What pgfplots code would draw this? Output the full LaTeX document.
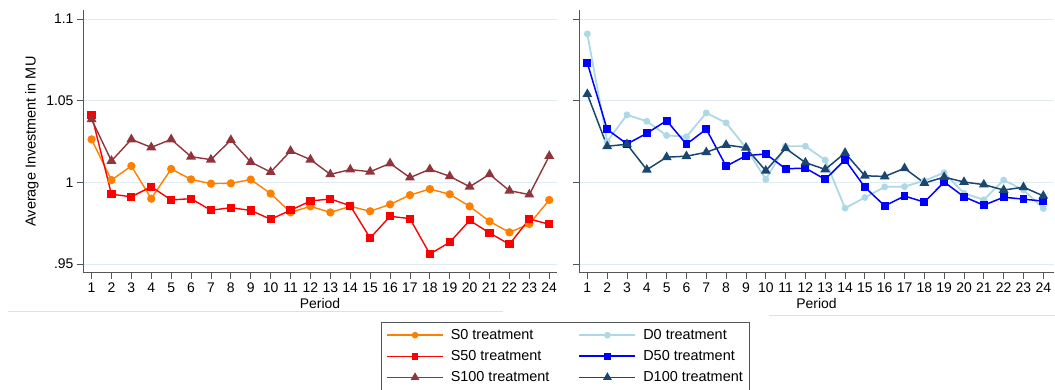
\documentclass[border=0pt]{standalone}
\usepackage{fontspec}
\setmainfont{Liberation Sans}
\usepackage{pgfplots}
\usepackage{pgfplotstable}
\pgfplotsset{compat=1.18}

\definecolor{cS0}{RGB}{255,128,0}
\definecolor{cS50}{RGB}{255,0,0}
\definecolor{cS100}{RGB}{144,53,59}
\definecolor{cD0}{RGB}{173,216,230}
\definecolor{cD50}{RGB}{0,0,255}
\definecolor{cD100}{RGB}{26,71,111}
\definecolor{gridc}{RGB}{225,235,242}
\definecolor{axc}{RGB}{85,85,85}
\definecolor{faint}{RGB}{225,225,225}

\pgfplotstableread{
p S0 S50 S100 D0 D50 D100
1 1.0263 1.0412 1.0386 1.0909 1.0731 1.0540
2 1.0014 0.9927 1.0131 1.0250 1.0324 1.0221
3 1.0100 0.9912 1.0263 1.0413 1.0235 1.0233
4 0.9900 0.9973 1.0214 1.0374 1.0300 1.0077
5 1.0082 0.9892 1.0263 1.0287 1.0378 1.0154
6 1.0018 0.9900 1.0157 1.0279 1.0233 1.0160
7 0.9992 0.9829 1.0139 1.0425 1.0326 1.0184
8 0.9994 0.9845 1.0259 1.0364 1.0099 1.0229
9 1.0017 0.9828 1.0124 1.0212 1.0163 1.0212
10 0.9931 0.9774 1.0063 1.0018 1.0174 1.0071
11 0.9816 0.9829 1.0192 1.0221 1.0083 1.0208
12 0.9853 0.9886 1.0139 1.0221 1.0087 1.0121
13 0.9816 0.9898 1.0049 1.0136 1.0018 1.0079
14 0.9853 0.9857 1.0078 0.9842 1.0138 1.0180
15 0.9823 0.9659 1.0065 0.9907 0.9970 1.0040
16 0.9865 0.9792 1.0116 0.9972 0.9856 1.0036
17 0.9922 0.9778 1.0029 0.9974 0.9916 1.0086
18 0.9959 0.9561 1.0080 1.0010 0.9879 0.9996
19 0.9927 0.9633 1.0037 1.0059 1.0002 1.0032
20 0.9853 0.9767 0.9973 0.9933 0.9911 1.0002
21 0.9761 0.9690 1.0049 0.9893 0.9860 0.9986
22 0.9694 0.9621 0.9949 1.0014 0.9909 0.9953
23 0.9745 0.9776 0.9925 0.9953 0.9897 0.9970
24 0.9892 0.9743 1.0161 0.9840 0.9885 0.9917
}\data

\pgfplotsset{
  panel/.style={
    scale only axis, height=263bp,
    axis x line=bottom, axis y line=left,
    axis line style={-, draw=axc, line width=1bp},
    tick align=outside, major tick length=6bp,
    tick style={draw=axc, line width=0.8bp},
    xtick={1,...,24}, ytick={0.95,1,1.05,1.1},
    ymin=0.9445, ymax=1.1055,
    ymajorgrids, grid style={draw=gridc, line width=0.8bp},
    tick label style={font=\fontsize{14}{16}\selectfont},
    /pgf/number format/assume math mode=true,
    xlabel={Period},
    xlabel style={font=\fontsize{14}{16}\selectfont, at={(axis description cs:0.5,0)}, anchor=center, yshift=-31bp},
  },
  lS0/.style={draw=cS0, line width=1.4bp, mark=*, mark size=3.4bp, mark options={solid, fill=cS0, draw=cS0}},
  lS50/.style={draw=cS50, line width=1.4bp, mark=square*, mark size=3.4bp, mark options={solid, fill=cS50, draw=cS50}},
  lS100/.style={draw=cS100, line width=1.4bp, mark=triangle*, mark size=4.4bp, mark options={solid, fill=cS100, draw=cS100}},
  lD0/.style={draw=cD0, line width=1.8bp, mark=*, mark size=2.5bp, mark options={solid, fill=cD0, draw=cD0}},
  lD50/.style={draw=cD50, line width=1.5bp, mark=square*, mark size=3.2bp, mark options={solid, fill=cD50, draw=cD50}},
  lD100/.style={draw=cD100, line width=1.5bp, mark=triangle*, mark size=4.2bp, mark options={solid, fill=cD100, draw=cD100}},
}

\begin{document}
\begin{tikzpicture}
\useasboundingbox (0,0) rectangle (1055bp,390bp);
\draw[faint, line width=0.8bp] (8bp,79bp) -- (503bp,79bp);
\draw[faint, line width=0.8bp] (769bp,75bp) -- (1055bp,75bp);

\begin{axis}[panel, at={(83bp,117bp)}, anchor=south west, width=474bp,
  xmin=0.57, xmax=24.39,
  yticklabels={.95,1,1.05,1.1},
  ylabel={Average Investment in MU},
  ylabel style={font=\fontsize{14.5}{16}\selectfont, at={(axis description cs:0,0.5)}, anchor=center, yshift=51bp},
]
\addplot[lS0] table[x=p, y=S0] {\data};
\addplot[lS50] table[x=p, y=S50] {\data};
\addplot[lS100] table[x=p, y=S100] {\data};
\end{axis}

\begin{axis}[panel, at={(579bp,117bp)}, anchor=south west, width=475bp,
  xmin=0.58, xmax=24.54,
  yticklabels={},
]
\addplot[lD0] table[x=p, y=D0] {\data};
\addplot[lD50] table[x=p, y=D50] {\data};
\addplot[lD100] table[x=p, y=D100] {\data};
\end{axis}

\begin{axis}[at={(0,0)}, anchor=south west, scale only axis, width=1055bp, height=390bp,
  hide axis, xmin=0, xmax=1, ymin=0, ymax=1,
  legend columns=2,
  legend style={at={(0.3611,0.1744)}, anchor=north west, draw=axc, line width=0.8bp,
    font=\fontsize{14.5}{16}\selectfont, inner xsep=5bp, inner ysep=5bp, row sep=5.5bp,
    /tikz/every odd column/.append style={column sep=5bp},
    /tikz/every even column/.append style={column sep=27bp},
    cells={anchor=west}},
  legend image code/.code={\draw[mark repeat=2, mark phase=2, #1] plot coordinates {(0bp,0bp) (28bp,0bp) (56bp,0bp)};},
]
\addlegendimage{lS0, mark size=2.6bp}
\addlegendentry{S0 treatment}
\addlegendimage{lD0, mark size=2.4bp}
\addlegendentry{D0 treatment}
\addlegendimage{lS50, mark size=2.6bp}
\addlegendentry{S50 treatment}
\addlegendimage{lD50, mark size=2.6bp}
\addlegendentry{D50 treatment}
\addlegendimage{lS100, mark size=3.6bp}
\addlegendentry{S100 treatment}
\addlegendimage{lD100, mark size=3.6bp}
\addlegendentry{D100 treatment}
\end{axis}
\end{tikzpicture}
\end{document}
